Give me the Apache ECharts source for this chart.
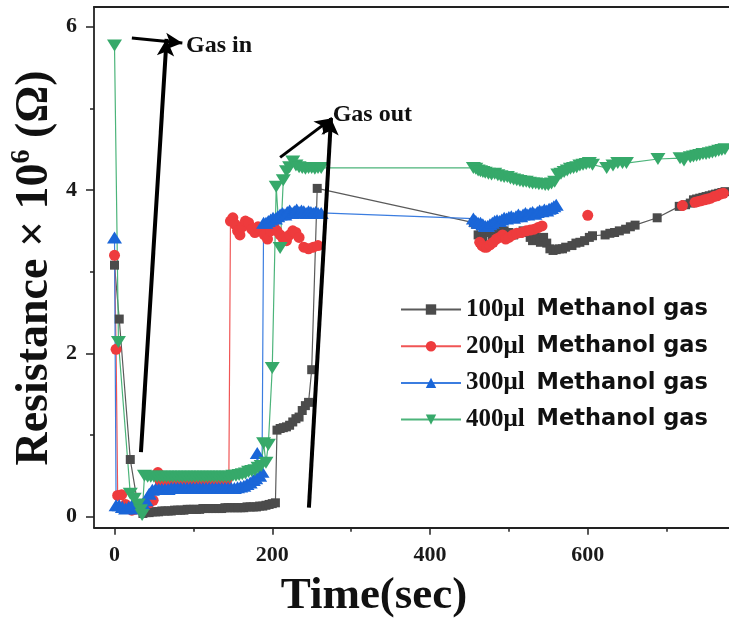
<!DOCTYPE html>
<html>
<head>
<meta charset="utf-8">
<script src="https://cdn.jsdelivr.net/npm/echarts@6/dist/echarts.min.js"></script>
<style>html,body{margin:0;padding:0;background:#fff;overflow:hidden;}#chart{width:729px;height:620px;}</style>
</head>
<body>
<div id="chart"></div>
<script>
// ---- data (time in s, resistance in 10^6 ohm) ----
var seriesNames = ['100μl Methanol gas', '200μl Methanol gas', '300μl Methanol gas', '400μl Methanol gas'];
var xTickLabels = [0, 200, 400, 600];
var xMinorTicks = [100, 300, 500, 700];
var yTickLabels = [0, 2, 4, 6];
var yMinorTicks = [1, 3, 5];

var s100 = [[0,3.08],[6,2.42],[20,0.70],[30,0.12],[36,0.04],[40,0.05],[44,0.05],[48,0.06],[52,0.06],[56,0.06],[60,0.07],[64,0.07],[68,0.07],[72,0.07],[76,0.08],[80,0.08],[84,0.08],[88,0.08],[92,0.09],[96,0.09],[100,0.09],[104,0.09],[108,0.09],[112,0.1],[116,0.1],[120,0.1],[124,0.1],[128,0.1],[132,0.1],[136,0.1],[140,0.11],[144,0.11],[148,0.11],[152,0.11],[156,0.11],[160,0.11],[164,0.11],[168,0.12],[172,0.12],[176,0.12],[180,0.12],[184,0.13],[188,0.13],[192,0.14],[196,0.15],[200,0.16],[204,0.17],[206,1.06],[210,1.08],[214,1.09],[218,1.1],[222,1.12],[226,1.16],[230,1.2],[234,1.22],[238,1.3],[242,1.36],[246,1.4],[250,1.8],[257,4.02],[455,3.6],[458,3.58],[461,3.45],[464,3.38],[467,3.42],[470,3.5],[473,3.55],[476,3.48],[479,3.44],[482,3.5],[485,3.55],[488,3.5],[491,3.46],[494,3.5],[500,3.48],[506,3.45],[512,3.47],[518,3.5],[524,3.48],[527,3.42],[530,3.38],[533,3.44],[536,3.4],[540,3.36],[544,3.42],[548,3.35],[552,3.28],[556,3.26],[560,3.27],[564,3.28],[568,3.28],[572,3.3],[580,3.32],[585,3.35],[590,3.36],[596,3.38],[602,3.42],[606,3.44],[622,3.45],[628,3.47],[634,3.48],[640,3.5],[648,3.52],[654,3.55],[660,3.57],[688,3.66],[716,3.8],[724,3.82],[730,3.84],[734,3.88],[738,3.89],[742,3.9],[746,3.91],[750,3.92],[754,3.93],[758,3.94],[762,3.95],[766,3.96],[770,3.97],[774,3.98]];

var s200 = [[0,3.2],[2,2.05],[4,0.26],[9,0.27],[14,0.15],[18,0.1],[22,0.08],[26,0.09],[32,0.12],[38,0.14],[44,0.17],[49,0.2],[55,0.54],[58,0.43],[62,0.42],[66,0.42],[70,0.43],[74,0.42],[78,0.42],[82,0.43],[86,0.42],[90,0.42],[94,0.43],[98,0.42],[102,0.42],[106,0.43],[110,0.42],[114,0.42],[118,0.43],[122,0.42],[126,0.42],[130,0.43],[134,0.42],[138,0.43],[142,0.44],[145,0.5],[147,3.62],[150,3.66],[153,3.58],[156,3.5],[159,3.45],[162,3.55],[166,3.62],[170,3.6],[174,3.52],[178,3.48],[182,3.55],[186,3.52],[190,3.45],[194,3.4],[198,3.5],[202,3.55],[206,3.5],[210,3.45],[214,3.4],[218,3.38],[222,3.45],[226,3.5],[230,3.48],[234,3.42],[240,3.3],[246,3.28],[252,3.3],[258,3.32],[350,null],[463,3.36],[466,3.32],[469,3.3],[472,3.3],[476,3.33],[480,3.36],[484,3.4],[488,3.42],[492,3.45],[496,3.4],[500,3.42],[505,3.45],[510,3.47],[516,3.48],[522,3.5],[527,3.51],[532,3.52],[537,3.54],[542,3.56],[570,null],[600,3.69],[660,null],[720,3.81],[736,3.85],[740,3.86],[744,3.87],[748,3.88],[752,3.89],[756,3.9],[760,3.92],[764,3.93],[768,3.95],[772,3.96]];

var s300 = [[0,3.42],[2,0.14],[6,0.14],[10,0.12],[14,0.1],[18,0.12],[22,0.14],[28,0.1],[32,0.14],[36,0.16],[40,0.2],[44,0.28],[48,0.33],[52,0.34],[56,0.34],[60,0.34],[64,0.34],[68,0.34],[72,0.35],[76,0.35],[80,0.35],[84,0.35],[88,0.35],[92,0.35],[96,0.35],[100,0.35],[104,0.35],[108,0.35],[112,0.35],[116,0.35],[120,0.35],[124,0.35],[128,0.35],[132,0.35],[136,0.35],[140,0.35],[144,0.35],[148,0.35],[152,0.35],[156,0.36],[160,0.37],[164,0.38],[168,0.4],[172,0.42],[176,0.45],[179,0.47],[181,0.78],[184,0.5],[187,0.55],[189,3.6],[192,3.6],[195,3.62],[198,3.64],[201,3.66],[204,3.65],[207,3.68],[210,3.7],[213,3.72],[216,3.7],[219,3.73],[222,3.75],[225,3.72],[228,3.74],[231,3.76],[234,3.73],[237,3.75],[240,3.74],[243,3.72],[246,3.74],[249,3.73],[252,3.72],[255,3.73],[258,3.72],[262,3.72],[455,3.65],[458,3.62],[461,3.6],[464,3.6],[467,3.58],[470,3.56],[473,3.56],[476,3.58],[479,3.6],[482,3.62],[485,3.63],[488,3.62],[491,3.64],[494,3.66],[497,3.65],[500,3.67],[503,3.68],[506,3.66],[509,3.68],[512,3.7],[515,3.68],[518,3.7],[521,3.72],[524,3.7],[527,3.72],[530,3.73],[533,3.71],[536,3.73],[539,3.75],[542,3.74],[545,3.76],[548,3.75],[551,3.77],[554,3.78],[557,3.8],[560,3.82]];

var s400 = [[0,5.77],[5,2.14],[20,0.28],[25,0.22],[30,0.15],[33,0.08],[35,0.02],[38,0.5],[42,0.49],[46,0.49],[50,0.49],[54,0.49],[58,0.49],[62,0.49],[66,0.49],[70,0.49],[74,0.49],[78,0.49],[82,0.49],[86,0.49],[90,0.49],[94,0.49],[98,0.49],[102,0.49],[106,0.49],[110,0.49],[114,0.49],[118,0.49],[122,0.49],[126,0.49],[130,0.49],[134,0.49],[138,0.49],[142,0.49],[146,0.49],[150,0.5],[154,0.5],[158,0.51],[162,0.52],[166,0.53],[170,0.55],[174,0.56],[178,0.57],[182,0.6],[186,0.62],[189,0.9],[192,0.66],[195,0.88],[200,1.82],[205,4.04],[210,3.29],[214,4.12],[218,4.23],[222,4.28],[226,4.35],[230,4.3],[234,4.28],[238,4.27],[242,4.26],[246,4.27],[250,4.27],[254,4.26],[258,4.27],[262,4.27],[455,4.27],[458,4.26],[461,4.24],[464,4.23],[467,4.22],[470,4.21],[474,4.2],[478,4.19],[482,4.2],[486,4.18],[490,4.17],[494,4.16],[498,4.16],[502,4.14],[506,4.13],[510,4.12],[514,4.11],[518,4.1],[522,4.1],[526,4.09],[530,4.08],[534,4.08],[538,4.07],[542,4.07],[546,4.06],[550,4.06],[554,4.08],[558,4.1],[562,4.19],[566,4.2],[570,4.22],[574,4.24],[578,4.26],[582,4.27],[586,4.28],[590,4.3],[594,4.31],[598,4.32],[602,4.33],[606,4.31],[624,4.27],[632,4.3],[638,4.33],[644,4.33],[649,4.33],[689,4.38],[717,4.39],[722,4.36],[730,4.4],[734,4.41],[738,4.42],[742,4.43],[746,4.44],[750,4.44],[754,4.45],[758,4.46],[762,4.47],[766,4.48],[770,4.49],[774,4.5]];

// annotation arrows (data coordinates) and labels
var arrowLines = [
  {from: [33.5, 0.79], to: [66, 5.85], width: 4},
  {from: [22, 5.86], to: [86, 5.8], width: 3},
  {from: [246.5, 0.11], to: [274.5, 4.88], width: 4},
  {from: [210, 4.4], to: [276, 4.88], width: 3}
];
var annotationTexts = [
  {text: 'Gas in', at: [90, 5.77]},
  {text: 'Gas out', at: [276, 4.92]}
];

var colors = {
  s100: {mark: '#4b4b4b', line: '#5a5a5a'},
  s200: {mark: '#ee3b3d', line: '#f05555'},
  s300: {mark: '#1a66d8', line: '#3b7de0'},
  s400: {mark: '#36a96a', line: '#4cb47a'}
};

var chart = echarts.init(document.getElementById('chart'), null, {renderer: 'canvas'});

function mkSeries(name, data, col, symbol, size) {
  return {
    name: name, type: 'line', data: data,
    symbol: symbol, symbolSize: size, showAllSymbol: true,
    connectNulls: false,
    itemStyle: {color: col.mark},
    lineStyle: {color: col.line, width: 1.2},
    emphasis: {disabled: true},
    animation: false
  };
}

var axisFont = {fontFamily: 'Liberation Serif', fontWeight: 'bold', fontSize: 22, color: '#1a1a1a'};
var X_MIN = -26, X_MAX = 785.4, Y_MIN = -0.1347, Y_MAX = 6.241;

var option = {
  animation: false,
  backgroundColor: '#ffffff',
  grid: {left: 94, top: 7, width: 640, height: 520.7, show: false, containLabel: false, outerBoundsMode: 'none'},
  xAxis: [{
    type: 'value', min: X_MIN, max: X_MAX, position: 'bottom',
    axisLine: {show: true, onZero: false, lineStyle: {color: '#222', width: 1.8}},
    axisTick: {show: true, inside: false, length: 7, customValues: xTickLabels, lineStyle: {color: '#222', width: 1.5}},
    axisLabel: Object.assign({show: true, margin: 17, customValues: xTickLabels}, axisFont),
    splitLine: {show: false}
  }, {
    type: 'value', min: X_MIN, max: X_MAX, position: 'bottom',
    axisLine: {show: false, onZero: false},
    axisTick: {show: true, inside: false, length: 4, customValues: xMinorTicks, lineStyle: {color: '#222', width: 1.5}},
    axisLabel: {show: false},
    splitLine: {show: false}
  }, {
    type: 'value', min: X_MIN, max: X_MAX, position: 'top',
    axisLine: {show: true, onZero: false, lineStyle: {color: '#222', width: 1.8}},
    axisTick: {show: false},
    axisLabel: {show: false},
    splitLine: {show: false}
  }],
  yAxis: [{
    type: 'value', min: Y_MIN, max: Y_MAX, position: 'left',
    axisLine: {show: true, onZero: false, lineStyle: {color: '#222', width: 1.8}},
    axisTick: {show: true, inside: false, length: 8, customValues: yTickLabels, lineStyle: {color: '#222', width: 1.5}},
    axisLabel: Object.assign({show: true, margin: 17, customValues: yTickLabels}, axisFont),
    splitLine: {show: false}
  }, {
    type: 'value', min: Y_MIN, max: Y_MAX, position: 'left',
    axisLine: {show: false, onZero: false},
    axisTick: {show: true, inside: false, length: 4, customValues: yMinorTicks, lineStyle: {color: '#222', width: 1.5}},
    axisLabel: {show: false},
    splitLine: {show: false}
  }],
  legend: {
    show: true, orient: 'vertical', left: 400, top: 297, padding: 0,
    itemWidth: 60, itemHeight: 13, itemGap: 11.7,
    data: seriesNames,
    formatter: function (name) {
      var i = name.indexOf(' ');
      return '{a|' + name.slice(0, i) + '}{b|' + name.slice(i + 1) + '}';
    },
    textStyle: {
      lineHeight: 24,
      rich: {
        a: {fontFamily: 'Liberation Serif', fontWeight: 'bold', fontSize: 25, color: '#111', lineHeight: 24},
        b: {fontFamily: 'DejaVu Sans', fontWeight: 'bold', fontSize: 22.5, color: '#111', lineHeight: 24, padding: [0, 0, 0, 12]}
      }
    }
  },
  graphic: [{
    type: 'text', x: 33, y: 268, rotation: Math.PI / 2,
    style: {
      text: '{m|Resistance × 10}{s|6}{m| (Ω)}',
      align: 'center', verticalAlign: 'middle',
      rich: {
        m: {fontFamily: 'Liberation Serif', fontWeight: 'bold', fontSize: 46, fill: '#111', lineHeight: 50, verticalAlign: 'bottom'},
        s: {fontFamily: 'Liberation Serif', fontWeight: 'bold', fontSize: 28, fill: '#111', lineHeight: 50, verticalAlign: 'top'}
      }
    }
  }, {
    type: 'text', x: 374, y: 596,
    style: {
      text: 'Time(sec)', align: 'center', verticalAlign: 'middle',
      fontFamily: 'Liberation Serif', fontWeight: 'bold', fontSize: 45, fill: '#111'
    }
  }],
  series: [
    mkSeries(seriesNames[0], s100, colors.s100, 'rect', 9),
    mkSeries(seriesNames[1], s200, colors.s200, 'circle', 11),
    mkSeries(seriesNames[2], s300, colors.s300, 'triangle', [15, 12]),
    mkSeries(seriesNames[3], s400, colors.s400, 'path://M0,0L16,0L8,13Z', [15, 12]),
    {
      name: 'annotations', type: 'line', data: [], silent: true, animation: false,
      markLine: {
        silent: true, animation: false,
        symbol: ['none', 'arrow'], symbolSize: [13, 17],
        label: {show: false},
        data: arrowLines.map(function (a) {
          return [{coord: a.from, lineStyle: {color: '#000', width: a.width, type: 'solid'}}, {coord: a.to}];
        })
      },
      markPoint: {
        silent: true, animation: false,
        symbol: 'circle', symbolSize: 1, itemStyle: {color: 'rgba(0,0,0,0)'},
        label: {show: true, position: 'right', distance: 0, fontFamily: 'Liberation Serif', fontWeight: 'bold', fontSize: 24, color: '#111'},
        data: annotationTexts.map(function (t) {
          return {coord: t.at, value: 0, label: {formatter: t.text}};
        })
      }
    }
  ]
};
chart.setOption(option);
</script>
</body>
</html>
